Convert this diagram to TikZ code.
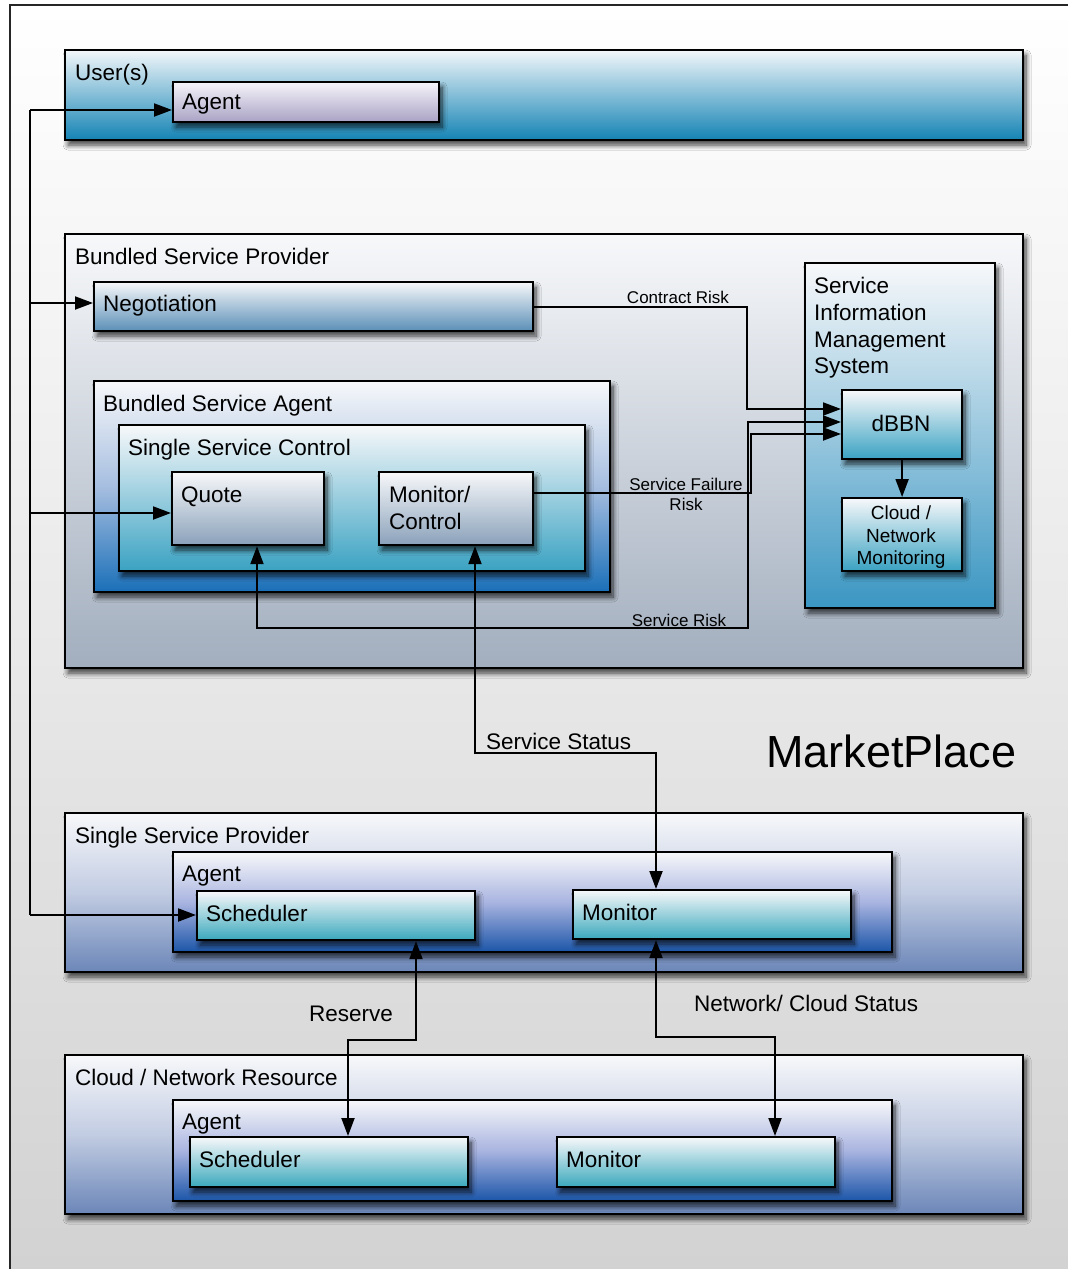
\documentclass[tikz,border=0pt]{standalone}
\usepackage{fontspec}
\setmainfont{Liberation Sans}
\usetikzlibrary{arrows.meta,shadows.blur}

\definecolor{bgbot}{HTML}{D2D2D2}
\definecolor{usrtop}{HTML}{F2F7FA}
\definecolor{usrbot}{HTML}{1483B4}
\definecolor{lavtop}{HTML}{F6F4FA}
\definecolor{lavbot}{HTML}{A9A2C4}
\definecolor{bsptop}{HTML}{F7F8FA}
\definecolor{bspbot}{HTML}{A2AEBE}
\definecolor{negbot}{HTML}{5A8EB6}
\definecolor{bsamid}{HTML}{A6BEE0}
\definecolor{bsabot}{HTML}{1A6FB8}
\definecolor{tealbot}{HTML}{3AA2C2}
\definecolor{grybot}{HTML}{8AA1BA}
\definecolor{simsbot}{HTML}{3A96C2}
\definecolor{sspbot}{HTML}{6B86B8}
\definecolor{sspmid}{HTML}{C2CCE2}
\definecolor{agmid}{HTML}{A9B4E0}
\definecolor{agbot}{HTML}{1B55A8}
\definecolor{cyanbot}{HTML}{3AA8BC}

\tikzset{
  x=1pt, y=-1pt,
  box/.style={draw=black, line width=2.2pt, inner sep=0pt, anchor=north west,
    blur shadow={shadow xshift=3pt, shadow yshift=-5pt, shadow blur radius=5pt,
                 shadow opacity=75, shadow blur steps=10}},
  lbl/.style={anchor=base west, inner sep=0pt, font=\fontsize{22.5}{27}\selectfont},
  lblc/.style={anchor=base, inner sep=0pt, font=\fontsize{22.5}{27}\selectfont},
  small/.style={anchor=base, inner sep=0pt, font=\fontsize{17}{20}\selectfont},
  mon/.style={anchor=base, inner sep=0pt, font=\fontsize{19}{22}\selectfont},
  conn/.style={line width=2pt, draw=black},
  tip/.style={-{Triangle[length=18pt,width=13pt]}},
  tips/.style={{Triangle[length=18pt,width=13pt]}-{Triangle[length=18pt,width=13pt]}},
}

\begin{document}
\begin{tikzpicture}
\useasboundingbox (0,0) rectangle (1068,1269);

% page frame with its grey backdrop
\node[anchor=north west, inner sep=0pt, minimum width=1058pt, minimum height=1264pt,
      top color=white, bottom color=bgbot] (frame) at (10,5) {};
\draw[line width=2pt, draw=black!85] (frame.south west) -- (frame.north west) -- (frame.north east);

% ---------- User(s) ----------
\node[box, minimum width=958pt, minimum height=90pt, top color=usrtop, bottom color=usrbot] (users) at (64,49) {};
\node[box, minimum width=266pt, minimum height=40pt, top color=lavtop, bottom color=lavbot] (uagent) at (172,81) {};
\node[lbl] (t-users) at (75,80) {User(s)};
\node[lbl] (t-uagent) at (182,109) {Agent};

% ---------- Bundled Service Provider ----------
\node[box, minimum width=958pt, minimum height=434pt, top color=bsptop, bottom color=bspbot] (bsp) at (64,233) {};
\node[box, minimum width=439pt, minimum height=49pt, top color=bsptop, bottom color=negbot] (nego) at (93,281) {};
\node[box, minimum width=516pt, minimum height=211pt, top color=bsptop, bottom color=bsabot, middle color=bsamid] (bsa) at (93,380) {};
\node[box, minimum width=466pt, minimum height=146pt, top color=bsptop, bottom color=tealbot] (ssc) at (118,424) {};
\node[box, minimum width=152pt, minimum height=73pt, top color=bsptop, bottom color=grybot] (quote) at (171,471) {};
\node[box, minimum width=154pt, minimum height=73pt, top color=bsptop, bottom color=grybot] (monctl) at (378,471) {};
\node[box, minimum width=190pt, minimum height=345pt, top color=bsptop, bottom color=simsbot] (sims) at (804,262) {};
\node[box, minimum width=120pt, minimum height=69pt, top color=bsptop, bottom color=tealbot] (dbbn) at (841,389) {};
\node[box, minimum width=120pt, minimum height=73pt, top color=bsptop, bottom color=tealbot] (cnm) at (841,497) {};

\node[lbl] (t-bsp) at (75,264) {Bundled Service Provider};
\node[lbl] (t-nego) at (103,311) {Negotiation};
\node[lbl] (t-bsa) at (103,411) {Bundled Service Agent};
\node[lbl] (t-ssc) at (128,455) {Single Service Control};
\node[lbl] (t-quote) at (181,502) {Quote};
\node[lbl] (t-monctl1) at (389,502) {Monitor/};
\node[lbl] (t-monctl2) at (389,529) {Control};
\node[lbl] (t-sims1) at (814,293) {Service};
\node[lbl] (t-sims2) at (814,320) {Information};
\node[lbl] (t-sims3) at (814,347) {Management};
\node[lbl] (t-sims4) at (814,373) {System};
\node[lblc] (t-dbbn) at (901,431) {dBBN};
\node[mon] (t-cnm1) at (901,519) {Cloud /};
\node[mon] (t-cnm2) at (901,542) {Network};
\node[mon] (t-cnm3) at (901,564) {Monitoring};

% ---------- Single Service Provider ----------
\node[box, minimum width=958pt, minimum height=159pt, top color=bsptop, bottom color=sspbot, middle color=sspmid] (ssp) at (64,812) {};
\node[box, minimum width=719pt, minimum height=100pt, top color=bsptop, bottom color=agbot, middle color=agmid] (sagent) at (172,851) {};
\node[box, minimum width=278pt, minimum height=49pt, top color=bsptop, bottom color=cyanbot] (ssched) at (196,890) {};
\node[box, minimum width=278pt, minimum height=49pt, top color=bsptop, bottom color=cyanbot] (smon) at (572,889) {};
\node[lbl] (t-ssp) at (75,843) {Single Service Provider};
\node[lbl] (t-sagent) at (182,881) {Agent};
\node[lbl] (t-ssched) at (206,921) {Scheduler};
\node[lbl] (t-smon) at (582,920) {Monitor};

% ---------- Cloud / Network Resource ----------
\node[box, minimum width=958pt, minimum height=159pt, top color=bsptop, bottom color=sspbot, middle color=sspmid] (cnr) at (64,1054) {};
\node[box, minimum width=719pt, minimum height=101pt, top color=bsptop, bottom color=agbot, middle color=agmid] (cagent) at (172,1099) {};
\node[box, minimum width=278pt, minimum height=50pt, top color=bsptop, bottom color=cyanbot] (csched) at (189,1136) {};
\node[box, minimum width=278pt, minimum height=50pt, top color=bsptop, bottom color=cyanbot] (cmon) at (556,1136) {};
\node[lbl] (t-cnr) at (75,1085) {Cloud / Network Resource};
\node[lbl] (t-cagent) at (182,1129) {Agent};
\node[lbl] (t-csched) at (199,1167) {Scheduler};
\node[lbl] (t-cmon) at (566,1167) {Monitor};

% ---------- MarketPlace title ----------
\node[anchor=base west, inner sep=0pt, font=\fontsize{45}{50}\selectfont] (t-market) at (766,767) {MarketPlace};

% ---------- left-hand bus ----------
\coordinate (bus1) at (30,110);
\coordinate (bus2) at (30,303);
\coordinate (bus3) at (30,513);
\coordinate (bus4) at (30,915);
\draw[conn] (bus1) -- (bus4);
\draw[conn,tip] (bus1) -- (uagent.west |- bus1);
\draw[conn,tip] (bus2) -- (nego.west |- bus2);
\draw[conn,tip] (bus3) -- (quote.west |- bus3);
\draw[conn,tip] (bus4) -- (ssched.west |- bus4);

% ---------- risk feeds into dBBN ----------
\coordinate (cr0) at (747,307);
\coordinate (cr1) at (747,409);
\draw[conn,tip] (nego.east |- cr0) -- (cr0) -- (cr1) -- (dbbn.west |- cr1);
\node[small] (t-cr) at (678,303) {Contract Risk};

\coordinate (sf0) at (751,493);
\coordinate (sf1) at (751,434);
\draw[conn,tip] (monctl.east |- sf0) -- (sf0) -- (sf1) -- (dbbn.west |- sf1);
\node[small] (t-sf1) at (686,490) {Service Failure};
\node[small] (t-sf2) at (686,510) {Risk};

\coordinate (sr1) at (748,422);
\coordinate (sr2) at (748,628);
\coordinate (sr3) at (257,628);
\draw[conn,tips] (dbbn.west |- sr1) -- (sr1) -- (sr2) -- (sr3) -- (quote.south -| sr3);
\node[small] (t-sr) at (679,626) {Service Risk};

\draw[conn,tip] (dbbn.south) -- (cnm.north);

% ---------- status and reservation links ----------
\coordinate (ss1) at (475,753);
\coordinate (ss2) at (656,753);
\draw[conn,tips] (monctl.south -| ss1) -- (ss1) -- (ss2) -- (smon.north -| ss2);
\node[lbl] (t-ss) at (486,749) {Service Status};

\coordinate (rs1) at (416,1040);
\coordinate (rs2) at (348,1040);
\draw[conn,tips] (ssched.south -| rs1) -- (rs1) -- (rs2) -- (csched.north -| rs2);
\node[lbl] (t-rs) at (309,1021) {Reserve};

\coordinate (ns1) at (656,1037);
\coordinate (ns2) at (775,1037);
\draw[conn,tips] (smon.south -| ns1) -- (ns1) -- (ns2) -- (cmon.north -| ns2);
\node[lbl] (t-ns) at (694,1011) {Network/ Cloud Status};

\end{tikzpicture}
\end{document}
